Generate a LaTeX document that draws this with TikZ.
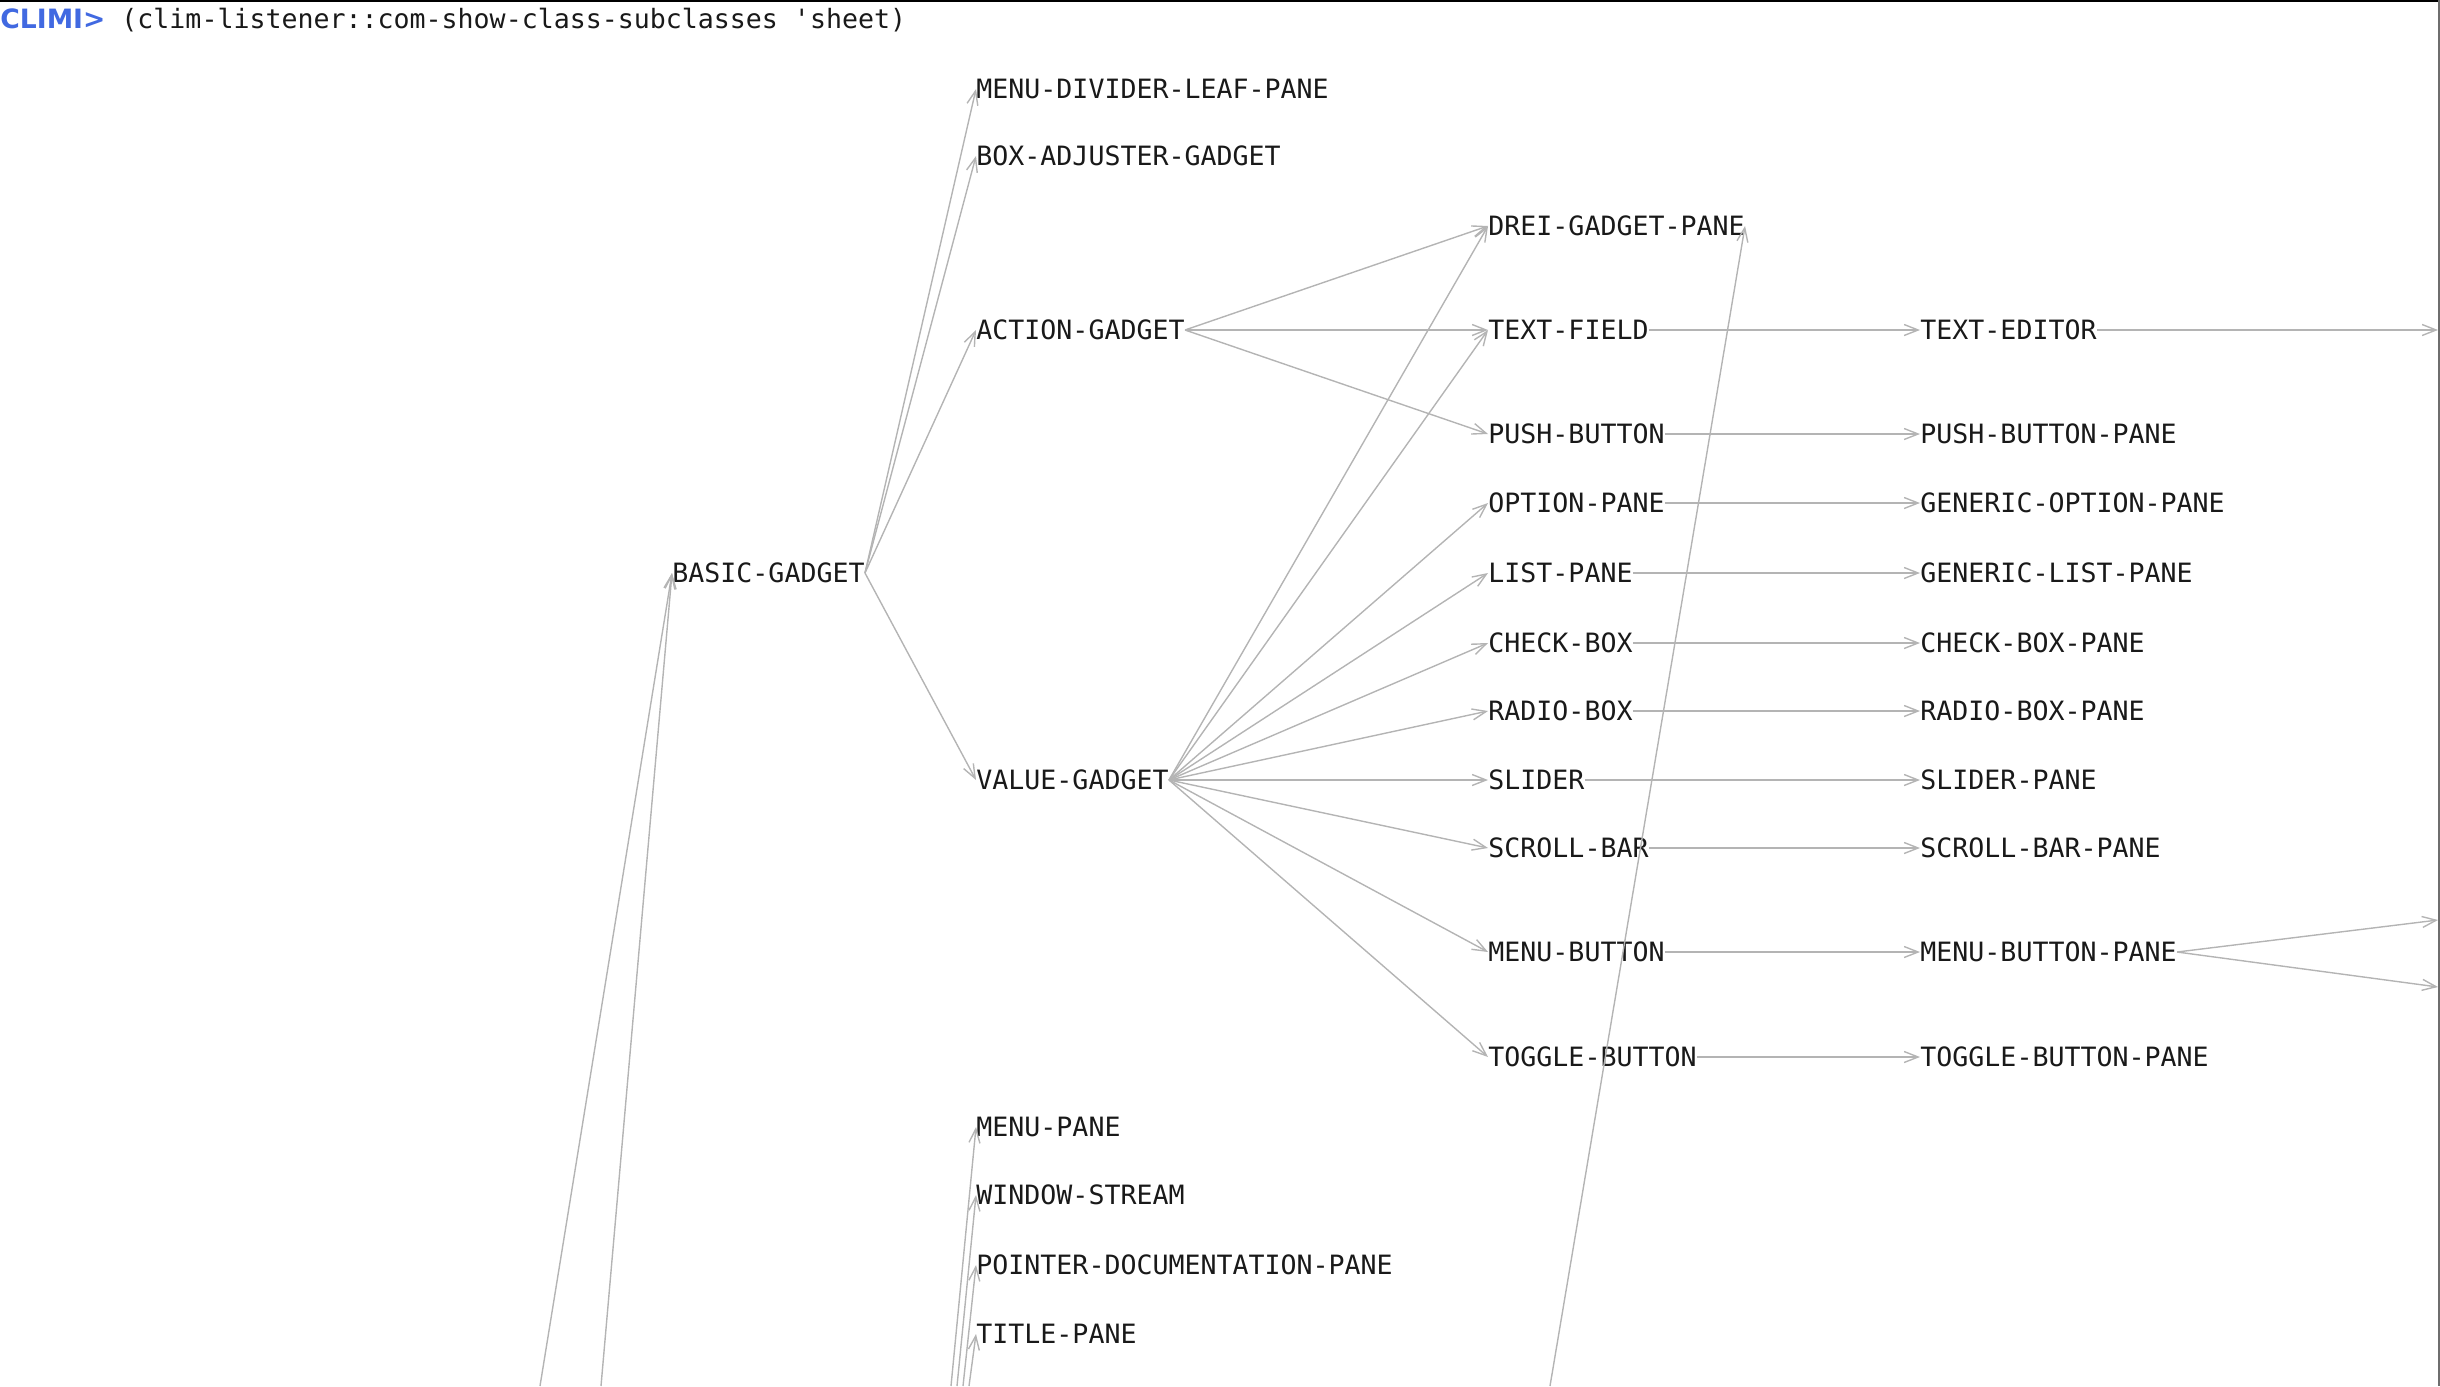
\documentclass[tikz,border=0pt]{standalone}
\usepackage{fontspec}
\newfontfamily\climfont{DejaVu Sans Mono}
\newfontfamily\promptfont{DejaVu Sans}
\usepackage{tikz}
\usetikzlibrary{arrows.meta}
\definecolor{edgegray}{HTML}{B4B4B4}
\definecolor{promptblue}{HTML}{4169E1}
\definecolor{framegray}{HTML}{6E6E6E}

\begin{document}
\begin{tikzpicture}[x=0.5pt,y=-0.5pt,
    cls/.style={anchor=west,inner sep=0pt,text height=9.7pt,text depth=0pt,
        font=\climfont\fontsize{13.3pt}{16pt}\selectfont,text=black!90},
    sub/.style={draw=edgegray,line width=0.7pt,-{Straight Barb[length=7pt,width=5.5pt]}}]
        \useasboundingbox (0,0) rectangle (2440,1386);
        \draw[line width=1pt] (0,1) -- (2440,1);
        \draw[framegray,line width=1pt] (2439,0) -- (2439,1386);

        \node[cls] (prompt) at (0,19) {{\promptfont\bfseries\color{promptblue}CLIMI>} (clim-listener::com-show-class-subclasses \char"27 sheet)};

        \node[cls] (basic) at (672,573) {BASIC-GADGET};
        \foreach \n/\t/\y in {mdlp/MENU-DIVIDER-LEAF-PANE/89, bag/BOX-ADJUSTER-GADGET/156,
            action/ACTION-GADGET/330, value/VALUE-GADGET/780, menupane/MENU-PANE/1127,
            winstream/WINDOW-STREAM/1195, pdp/POINTER-DOCUMENTATION-PANE/1265, titlepane/TITLE-PANE/1334}
        \node[cls] (\n) at (976,\y) {\t};

        \node[cls] (drei) at (1488,226) {DREI-GADGET-PANE};
        \foreach \n/\ta/\tb/\y in {textfield/TEXT-FIELD/TEXT-EDITOR/330,
            pushbutton/PUSH-BUTTON/PUSH-BUTTON-PANE/434, option/OPTION-PANE/GENERIC-OPTION-PANE/503,
            list/LIST-PANE/GENERIC-LIST-PANE/573, checkbox/CHECK-BOX/CHECK-BOX-PANE/643,
            radiobox/RADIO-BOX/RADIO-BOX-PANE/711, slider/SLIDER/SLIDER-PANE/780,
            scrollbar/SCROLL-BAR/SCROLL-BAR-PANE/848, menubutton/MENU-BUTTON/MENU-BUTTON-PANE/952,
            toggle/TOGGLE-BUTTON/TOGGLE-BUTTON-PANE/1057}
        {
            \node[cls] (\n) at (1488,\y) {\ta};
            \node[cls] (\n-pane) at (1920,\y) {\tb};
            \draw[sub] (\n.east) -- (\n-pane.west);
        }

        \coordinate (basic-in1) at (540,1386);
        \coordinate (basic-in2) at (601,1386);
        \coordinate (drei-in) at (1550,1386);
        \coordinate (menupane-in) at (951,1386);
        \coordinate (winstream-in) at (957,1386);
        \coordinate (pdp-in) at (963,1386);
        \coordinate (titlepane-in) at (969,1386);
        \coordinate (editor-out) at (2438,330);
        \coordinate (mbpane-out1) at (2438,920);
        \coordinate (mbpane-out2) at (2438,987);

        \draw[sub] (basic-in1) -- (basic.west);
        \draw[sub] (basic-in2) -- (basic.west);
        \draw[sub] (drei-in) -- (drei.east);
        \foreach \n in {menupane,winstream,pdp,titlepane}
        \draw[sub] (\n-in) -- (\n.west);

        \foreach \n in {mdlp,bag,action,value}
        \draw[sub] (basic.east) -- (\n.west);
        \foreach \n in {drei,textfield,pushbutton}
        \draw[sub] (action.east) -- (\n.west);
        \foreach \n in {drei,textfield,option,list,checkbox,radiobox,slider,scrollbar,menubutton,toggle}
        \draw[sub] (value.east) -- (\n.west);

        \draw[sub] (textfield-pane.east) -- (editor-out);
        \draw[sub] (menubutton-pane.east) -- (mbpane-out1);
        \draw[sub] (menubutton-pane.east) -- (mbpane-out2);
    \end{tikzpicture}
\end{document}
